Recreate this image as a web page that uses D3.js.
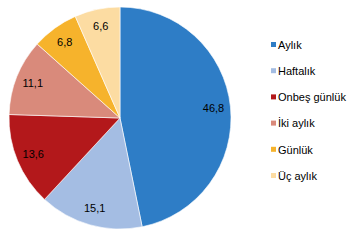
<!DOCTYPE html>
<html lang="tr">
  <head>
    <meta charset="UTF-8" />
    <style>
      body { margin: 0; background: #fff; }
      text { font-family: "Liberation Sans", Arial, sans-serif; font-size: 11px; fill: #000; }
    </style>
    <title>pie</title>
  </head>
  <body>
    <svg width="364" height="241" id="svg"></svg>
    <script src="https://cdn.jsdelivr.net/npm/d3@7"></script>
    <script>
      // veriler
      const categories = ["Aylık", "Haftalık", "Onbeş günlük", "İki aylık", "Günlük", "Üç aylık"];
      const values = [46.8, 15.1, 13.6, 11.1, 6.8, 6.6];
      const colors = ["#2e7dc6", "#a4bde3", "#b3181b", "#d98a7b", "#f6b32c", "#fcdca2"];

      const svg = d3.select("#svg");
      const cx = 120, cy = 118, radius = 111;

      const data = categories.map((c, i) => ({ name: c, value: values[i], color: colors[i] }));

      const pie = d3.pie().sort(null).value(d => d.value);
      const arc = d3.arc().innerRadius(0).outerRadius(radius);
      const labelArc = d3.arc().innerRadius(94).outerRadius(94);

      const g = svg.append("g").attr("transform", `translate(${cx},${cy})`);

      const arcs = pie(data);

      g.selectAll("path")
        .data(arcs)
        .join("path")
        .attr("d", arc)
        .attr("fill", d => d.data.color)
        .attr("stroke", "#fff")
        .attr("stroke-width", 0.6);

      g.selectAll("text")
        .data(arcs)
        .join("text")
        .attr("transform", d => `translate(${labelArc.centroid(d)})`)
        .attr("text-anchor", "middle")
        .attr("dy", "0.35em")
        .text(d => d3.format(".1f")(d.data.value).replace(".", ","));

      // lejant
      const legend = svg.append("g").attr("transform", "translate(271,45)");
      const rows = legend.selectAll("g")
        .data(data)
        .join("g")
        .attr("transform", (d, i) => `translate(0,${i * 26.2})`);

      rows.append("rect")
        .attr("x", 0).attr("y", -3)
        .attr("width", 5).attr("height", 5)
        .attr("fill", d => d.color);

      rows.append("text")
        .attr("x", 7)
        .attr("dy", "0.35em")
        .text(d => d.name);
    </script>
  </body>
</html>
